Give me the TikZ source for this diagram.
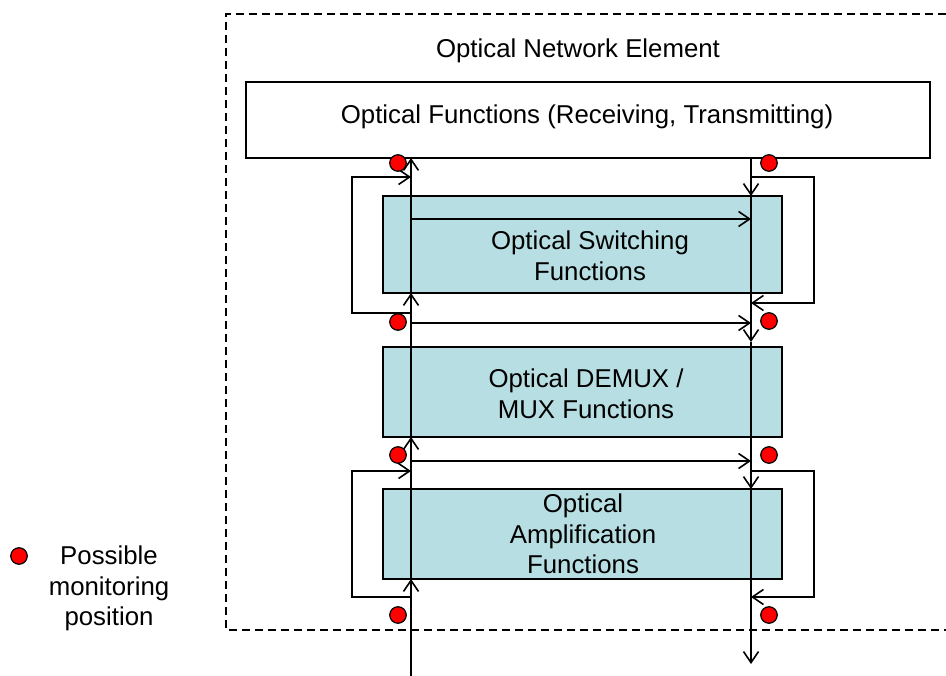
\documentclass[tikz,border=0pt]{standalone}
\usepackage{fontspec}
\setmainfont{Liberation Sans}
\usetikzlibrary{arrows.meta}
\definecolor{boxblue}{RGB}{183,222,226}
\definecolor{dotred}{RGB}{255,0,0}
\begin{document}
\begin{tikzpicture}[x=1pt,y=-1pt,
  every node/.style={inner sep=0pt,outer sep=0pt},
  >={Straight Barb[length=11pt,width=15pt]},
  frame/.style={draw=black,line width=1.4pt,dash pattern=on 8pt off 5pt},
  topbox/.style={draw=black,line width=1.8pt,fill=white,minimum width=684pt,minimum height=76pt},
  funcbox/.style={draw=black,line width=1.8pt,fill=boxblue,minimum width=399pt},
  lbl/.style={font=\fontsize{25.8}{30.5}\selectfont,align=center},
  flow/.style={draw=black,line width=1.6pt,->},
  mon/.style={circle,draw=black,line width=1.2pt,fill=dotred,minimum size=16.5pt}
]
\useasboundingbox (0,0) rectangle (946,676);
% frame of the network element
\draw[frame] (946,14) -- (226,14) -- (226,630) -- (946,630);
\node[lbl] (title) at (578,50.5) {Optical Network Element};
% boxes
\node[topbox] (top) at (588,120) {};
\node[lbl] (toptxt) at (587,116.5) {Optical Functions (Receiving, Transmitting)};
\node[funcbox,minimum height=97pt] (sw) at (582.5,244.5) {};
\node[lbl] (swtxt) at (590,256) {Optical Switching\\Functions};
\node[funcbox,minimum height=90pt] (dm) at (582.5,392) {};
\node[lbl] (dmtxt) at (586,394) {Optical DEMUX /\\MUX Functions};
\node[funcbox,minimum height=90pt] (amp) at (582.5,534) {};
\node[lbl] (amptxt) at (583,534) {Optical\\Amplification\\Functions};
% coordinates of the two vertical paths
\coordinate (Lin) at (411,676);
\coordinate (Rtop) at (751,158);
\coordinate (Rmid) at (751,342);
\coordinate (Rout) at (751,664);
% upward path (left)
\draw[flow] (Lin) -- (Lin |- amp.south);
\draw[flow] (Lin |- amp.south) -- (Lin |- dm.south);
\draw[flow] (Lin |- dm.south) -- (Lin |- sw.south);
\draw[flow] (Lin |- sw.south) -- (Lin |- top.south);
% downward path (right)
\draw[flow] (Rtop) -- (Rtop |- sw.north);
\draw[flow] (Rtop |- sw.north) -- (Rmid);
\draw[black,line width=1.6pt] (Rmid) -- (Rtop |- dm.north);
\draw[flow] (Rtop |- dm.north) -- (Rtop |- amp.north);
\draw[flow] (Rtop |- amp.north) -- (Rout);
% cross arrows
\coordinate (h1l) at (411,219); \coordinate (h1r) at (751,219);
\coordinate (h2l) at (411,323); \coordinate (h2r) at (751,323);
\coordinate (h3l) at (411,461); \coordinate (h3r) at (751,461);
\draw[flow] (h1l) -- (h1r);
\draw[flow] (h2l) -- (h2r);
\draw[flow] (h3l) -- (h3r);
% bypass loops
\coordinate (a1) at (411,313); \coordinate (a2) at (411,177);
\coordinate (b1) at (751,177); \coordinate (b2) at (751,303);
\coordinate (c1) at (411,597); \coordinate (c2) at (411,471);
\coordinate (d1) at (751,471); \coordinate (d2) at (751,597);
\draw[flow] (a1) -- (352,313) -- (352,177) -- (a2);
\draw[flow] (b1) -- (814,177) -- (814,303) -- (b2);
\draw[flow] (c1) -- (352,597) -- (352,471) -- (c2);
\draw[flow] (d1) -- (814,471) -- (814,597) -- (d2);
% monitoring positions
\node[mon] (m1) at (398,163) {};
\node[mon] (m2) at (769,163) {};
\node[mon] (m3) at (398,322) {};
\node[mon] (m4) at (769,321) {};
\node[mon] (m5) at (398,455) {};
\node[mon] (m6) at (769,455) {};
\node[mon] (m7) at (398,615) {};
\node[mon] (m8) at (769,615) {};
% legend
\node[mon] (leg) at (19,556) {};
\node[lbl] (legtxt) at (109,588.5) {Possible\\monitoring\\position};
\end{tikzpicture}
\end{document}
